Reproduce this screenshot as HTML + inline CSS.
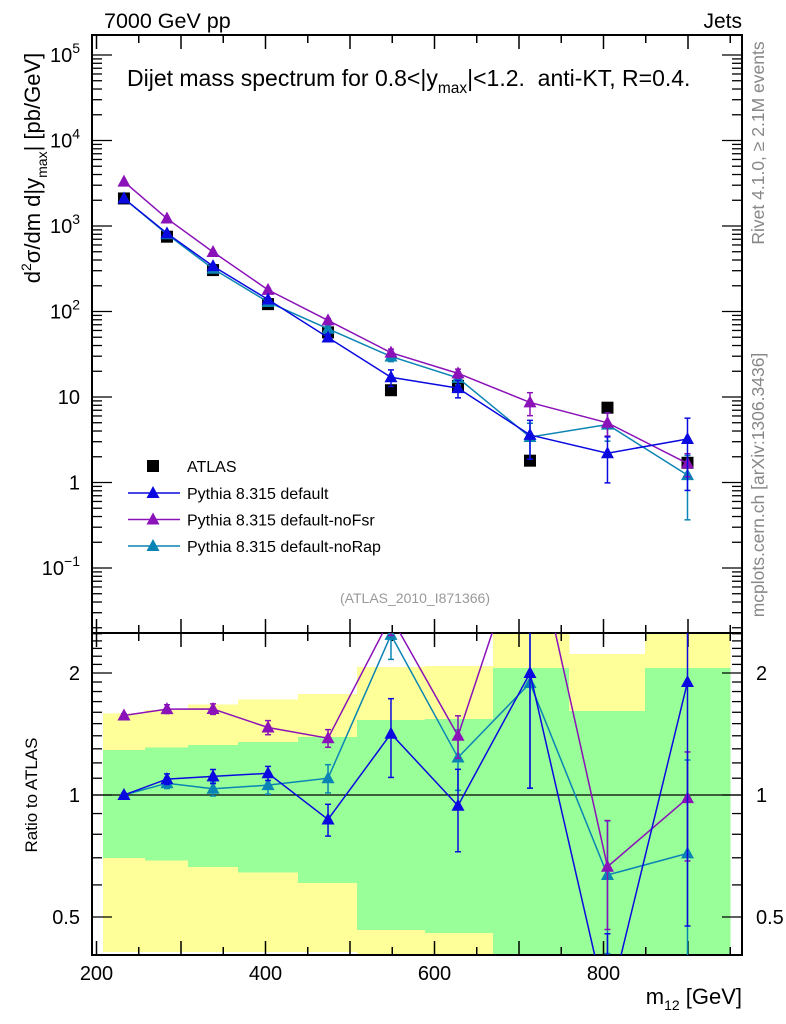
<!DOCTYPE html>
<html><head><meta charset="utf-8">
<style>
html,body{margin:0;padding:0;background:#fff;overflow:hidden;width:786px;height:1024px;}
svg{display:block;font-family:"Liberation Sans",sans-serif;overflow:hidden;}
</style></head>
<body>
<svg id="chart" width="786" height="1024" viewBox="0 0 786 1024" xmlns="http://www.w3.org/2000/svg">
<rect width="786" height="1024" fill="#fff"/>
<g id="bands" shape-rendering="crispEdges"></g>
<g id="axes"></g>
<g id="series"></g>
<text x="104" y="28" font-size="21.5">7000 GeV pp</text>
<text x="742" y="28" font-size="21" text-anchor="end">Jets</text>
<text x="127" y="86" font-size="23" xml:space="preserve">Dijet mass spectrum for 0.8&lt;|y<tspan font-size="15.5" dy="7">max</tspan><tspan dy="-7">|&lt;1.2.  anti-KT, R=0.4.</tspan></text>
<text transform="translate(40,168) rotate(-90)" font-size="22" text-anchor="middle">d<tspan font-size="14" dy="-9">2</tspan><tspan dy="9">σ/dm d|y</tspan><tspan font-size="14" dy="7">max</tspan><tspan dy="-7">| [pb/GeV]</tspan></text>
<text transform="translate(37,795) rotate(-90)" font-size="17" text-anchor="middle">Ratio to ATLAS</text>
<text x="742" y="1004" font-size="22" text-anchor="end">m<tspan font-size="14" dy="6">12</tspan><tspan dy="-6"> [GeV]</tspan></text>
<text transform="translate(764,143) rotate(-90)" font-size="17.5" fill="#888" text-anchor="middle">Rivet 4.1.0, ≥ 2.1M events</text>
<text transform="translate(764,485) rotate(-90)" font-size="17.5" fill="#888" text-anchor="middle">mcplots.cern.ch [arXiv:1306.3436]</text>
<text x="415" y="603" font-size="14" fill="#999" text-anchor="middle">(ATLAS_2010_I871366)</text>
<g id="legend"></g>
</svg>
<script>
const masses = [232.5, 283.4, 337.9, 403, 474, 548.5, 627.8, 713, 804.7, 899.4];
const atlasValues = [2100, 750, 305, 122, 57, 12, 13.5, 1.8, 7.5, 1.7];
const defaultValues = [2100, 821, 339, 138, 49.6, 17.0, 12.7, 3.6, 2.2, 3.23];
const noFsrValues = [3300, 1222, 497, 179, 78.7, 33, 18.9, 8.64, 4.99, 1.67];
const noRapValues = [2100, 802, 316, 129, 62.7, 29.8, 16.7, 3.40, 4.76, 1.22];
const defaultRelErr = [0.01, 0.03, 0.04, 0.04, 0.09, 0.22, 0.23, 0.48, 0.55, 0.75];
const noFsrRelErr = [0.01, 0.025, 0.03, 0.04, 0.05, 0.1, 0.12, 0.3, 0.3, 0.3];
const noRapRelErr = [0.01, 0.03, 0.04, 0.05, 0.08, 0.13, 0.17, 0.45, 0.36, 0.7];
const binEdges = [207.7, 257, 308, 367.5, 438.5, 508, 588.7, 669, 759, 849, 950];
const band1Up = [1.29, 1.31, 1.33, 1.35, 1.39, 1.53, 1.54, 2.06, 1.61, 2.06];
const band1Down = [0.70, 0.69, 0.665, 0.643, 0.607, 0.465, 0.457, 0.3, 0.3, 0.3];
const band2Up = [1.59, 1.62, 1.67, 1.72, 1.775, 2.07, 2.08, 3.0, 2.23, 3.0];
const band2Down = [0.41, 0.41, 0.41, 0.41, 0.41, 0.39, 0.39, 0.3, 0.3, 0.3];
const xTicks = [200, 400, 600, 800];
const mainTickExps = [-1, 0, 1, 2, 3, 4, 5];
const ratioTicks = [0.5, 1, 2];

const NS = "http://www.w3.org/2000/svg";
const L = 92, R = 742, T = 35, MB = 633, RB = 955;
const xs = m => 96.5 + (m - 200) * 0.845;
const ym = v => 482.5 - 85.5 * Math.log10(v);
const yr = r => 795 - 405.3 * Math.log10(r);
function mk(tag, attrs, parent) {
  const e = document.createElementNS(NS, tag);
  for (const k in attrs) e.setAttribute(k, attrs[k]);
  parent.appendChild(e); return e;
}
const axes = document.getElementById('axes');
const bands = document.getElementById('bands');
const series = document.getElementById('series');
const legend = document.getElementById('legend');

for (let i = 0; i < binEdges.length - 1; i++) {
  const x0 = Math.round(xs(binEdges[i])), x1 = Math.round(xs(binEdges[i + 1]));
  const clampY = y => Math.max(MB, Math.min(RB, y));
  const ya = clampY(yr(band2Up[i])), yb = clampY(yr(band2Down[i]));
  const yel = mk('rect', {x: x0, y: ya, width: x1 - x0 + 0.5, height: yb - ya, fill: '#ffff99'}, bands);
  
  
  const gu = clampY(yr(band1Up[i])), gd = clampY(yr(band1Down[i]));
  const gr = mk('rect', {x: x0, y: gu, width: x1 - x0 + 0.5, height: gd - gu, fill: '#99ff99'}, bands);
  
  
}

mk('rect', {x: L, y: T, width: R - L, height: MB - T, fill: 'none', stroke: '#000', 'stroke-width': 2}, axes);
mk('rect', {x: L, y: MB, width: R - L, height: RB - MB, fill: 'none', stroke: '#000', 'stroke-width': 2}, axes);
mk('line', {x1: L, x2: R, y1: yr(1), y2: yr(1), stroke: '#000', 'stroke-width': 1.2}, axes);

for (let m = 200; m <= 950; m += 50) {
  const x = xs(m), len = (m % 100 === 0) ? 14 : 8;
  [[T, 1], [MB, -1], [MB, 1], [RB, -1]].forEach(([y, d]) => {
    mk('line', {x1: x, x2: x, y1: y, y2: y + d * len, stroke: '#000', 'stroke-width': 1.5}, axes);
  });
}
xTicks.forEach(m => {
  const t = mk('text', {x: xs(m), y: 980, 'font-size': 20, 'text-anchor': 'middle'}, axes);
  t.textContent = m;
  
  
});

for (let e = -2; e <= 5; e++) {
  for (let k = 1; k <= 9; k++) {
    const v = k * Math.pow(10, e), y = ym(v);
    if (y < T || y > MB) continue;
    const len = k === 1 ? 20 : 10;
    mk('line', {x1: L, x2: L + len, y1: y, y2: y, stroke: '#000', 'stroke-width': 1.3}, axes);
    mk('line', {x1: R, x2: R - len, y1: y, y2: y, stroke: '#000', 'stroke-width': 1.3}, axes);
  }
}
mainTickExps.forEach(e => {
  const t = mk('text', {x: 80, y: ym(Math.pow(10, e)) + 7, 'font-size': 20, 'text-anchor': 'end'}, axes);
  
  
  if (e === 0) t.textContent = '1';
  else if (e === 1) t.textContent = '10';
  else {
    t.textContent = '10';
    const s = mk('tspan', {dy: -9, 'font-size': 14}, t);
    s.textContent = e < 0 ? '−' + (-e) : e;
  }
});

for (let r = 0.4; r <= 2.55; r += 0.1) {
  const rr = Math.round(r * 10) / 10, y = yr(rr);
  if (y < MB || y > RB) continue;
  const len = (rr === 0.5 || rr === 1 || rr === 2) ? 20 : 10;
  mk('line', {x1: L, x2: L + len, y1: y, y2: y, stroke: '#000', 'stroke-width': 1.3}, axes);
  mk('line', {x1: R, x2: R - len, y1: y, y2: y, stroke: '#000', 'stroke-width': 1.3}, axes);
}
ratioTicks.forEach(r => {
  const t1 = mk('text', {x: 80, y: yr(r) + 7, 'font-size': 20, 'text-anchor': 'end'}, axes);
  t1.textContent = r;
  
  
  const t2 = mk('text', {x: 756, y: yr(r) + 7, 'font-size': 20}, axes);
  t2.textContent = r;
  
  
});

const defs = mk('defs', {}, document.getElementById('chart'));
const c1 = mk('clipPath', {id: 'clipMain'}, defs);
mk('rect', {x: L, y: T, width: R - L, height: MB - T}, c1);
const c2 = mk('clipPath', {id: 'clipRatio'}, defs);
mk('rect', {x: L, y: MB, width: R - L, height: RB - MB}, c2);
const gMain = mk('g', {'clip-path': 'url(#clipMain)'}, series);
const gRatio = mk('g', {'clip-path': 'url(#clipRatio)'}, series);

function tri(parent, x, y, color, name) {
  const p = mk('polygon', {points: `${x},${y - 7} ${x - 6.5},${y + 5} ${x + 6.5},${y + 5}`, fill: color}, parent);
  
  
}
function errBar(parent, x, y1, y2, color) {
  mk('line', {x1: x, x2: x, y1: y1, y2: y2, stroke: color, 'stroke-width': 1.5}, parent);
  mk('line', {x1: x - 3, x2: x + 3, y1: y1, y2: y1, stroke: color, 'stroke-width': 1.5}, parent);
  mk('line', {x1: x - 3, x2: x + 3, y1: y2, y2: y2, stroke: color, 'stroke-width': 1.5}, parent);
}
const mcs = [
  {vals: noRapValues, err: noRapRelErr, color: '#0a84b4', name: 'norap'},
  {vals: noFsrValues, err: noFsrRelErr, color: '#8a12b8', name: 'nofsr'},
  {vals: defaultValues, err: defaultRelErr, color: '#0a0ae0', name: 'default'}
];
atlasValues.forEach((v, i) => {
  const s = mk('rect', {x: xs(masses[i]) - 6, y: ym(v) - 6, width: 12, height: 12, fill: '#000'}, gMain);
  
  
});
mcs.forEach(s => {
  const pm = s.vals.map((v, i) => xs(masses[i]) + ',' + ym(v)).join(' ');
  const l1 = mk('polyline', {points: pm, fill: 'none', stroke: s.color, 'stroke-width': 1.5}, gMain);
  
  
  const ratios = s.vals.map((v, i) => v / atlasValues[i]);
  const pr = ratios.map((r, i) => xs(masses[i]) + ',' + yr(r)).join(' ');
  const l2 = mk('polyline', {points: pr, fill: 'none', stroke: s.color, 'stroke-width': 1.5}, gRatio);
  
  
  s.vals.forEach((v, i) => {
    const x = xs(masses[i]), e = s.err[i];
    errBar(gMain, x, ym(v * (1 + e)), ym(Math.max(v * (1 - e), 1e-3)), s.color);
    tri(gMain, x, ym(v), s.color, s.name + '-point');
    const r = ratios[i];
    errBar(gRatio, x, yr(r * (1 + e)), yr(Math.max(r * (1 - e), 1e-3)), s.color);
    tri(gRatio, x, yr(r), s.color, s.name + '-ratio-point');
  });
});

const legItems = [
  ['Pythia 8.315 default', '#0a0ae0'],
  ['Pythia 8.315 default-noFsr', '#8a12b8'],
  ['Pythia 8.315 default-noRap', '#0a84b4']
];
mk('rect', {x: 147, y: 460, width: 12, height: 12, fill: '#000'}, legend);
const la = mk('text', {x: 187, y: 472, 'font-size': 16}, legend);
la.textContent = 'ATLAS';


legItems.forEach((it, k) => {
  const y = 493 + k * 26.5;
  mk('line', {x1: 128, x2: 180, y1: y, y2: y, stroke: it[1], 'stroke-width': 1.5}, legend);
  tri(legend, 153, y, it[1], 'legend-marker');
  const t = mk('text', {x: 187, y: y + 6, 'font-size': 16}, legend);
  t.textContent = it[0];
  
  
});
</script>
</body></html>
